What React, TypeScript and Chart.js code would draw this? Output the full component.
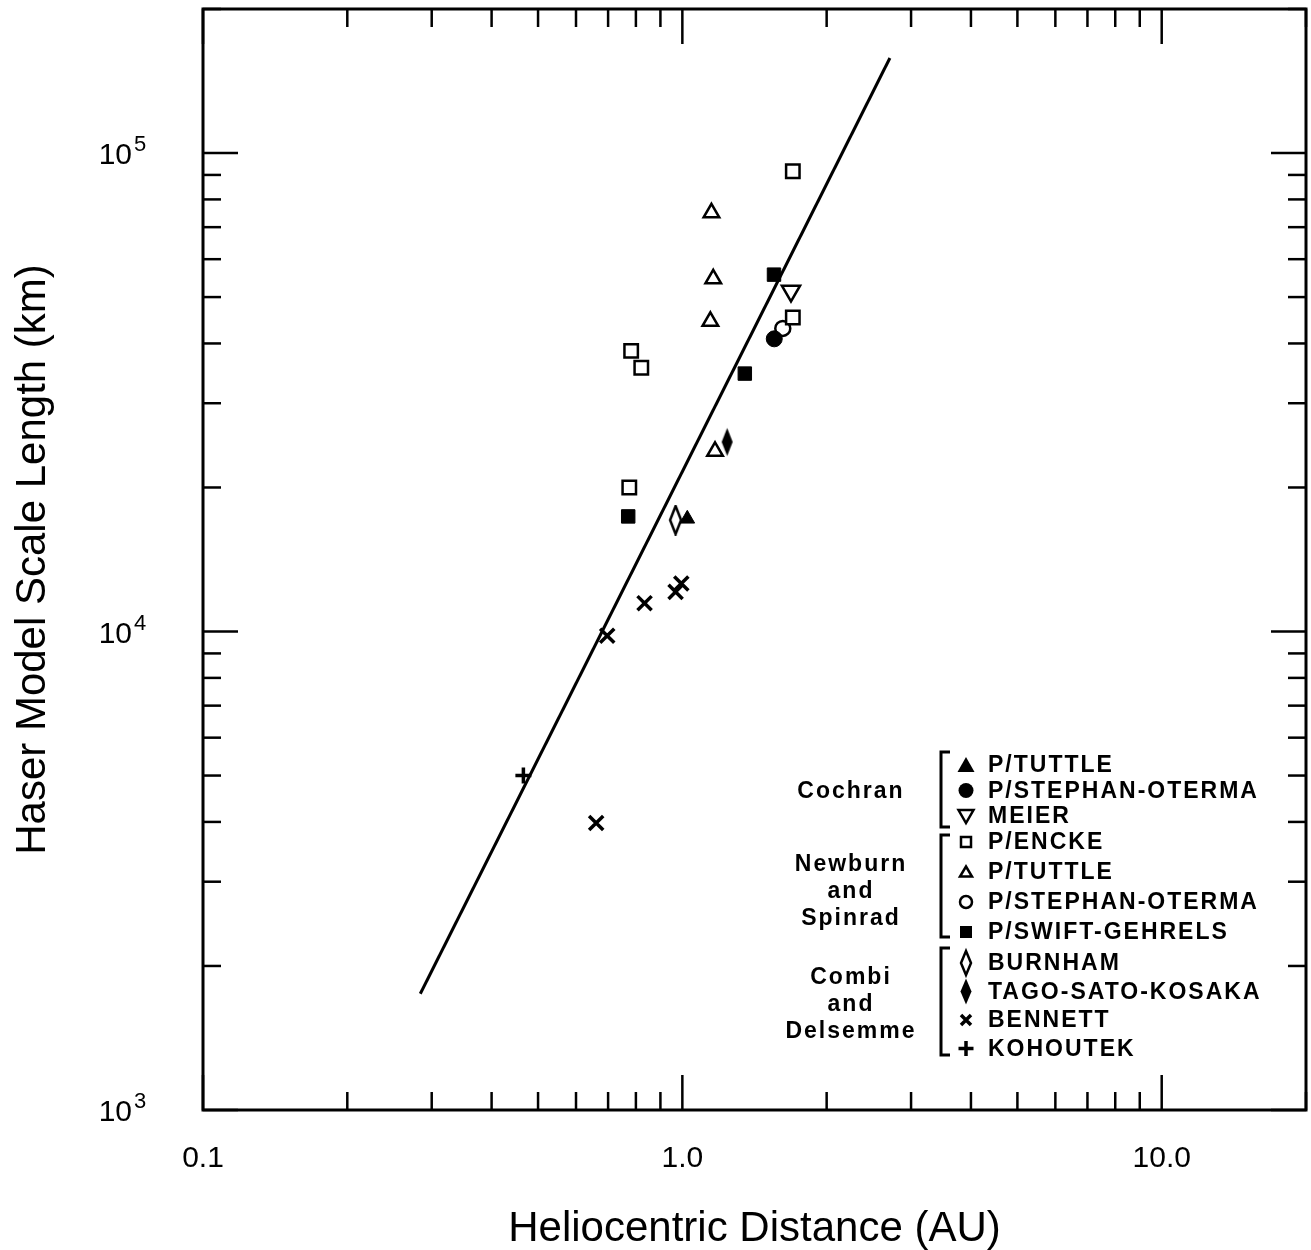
import React, { useEffect, useRef } from 'react';
import { Chart, registerables } from 'chart.js';

Chart.register(...registerables);

const W = 1311;
const H = 1250;
const FONT = "'Liberation Sans', Arial, Helvetica, sans-serif";

// ---- data (heliocentric distance AU, Haser scale length km) ----
const cochranTuttleX = [1.024];
const cochranTuttleY = [17200];
const cochranStephanX = [1.555];
const cochranStephanY = [40900];
const meierX = [1.685];
const meierY = [51500];

const enckeX = [0.775, 0.782, 0.821, 1.7, 1.7];
const enckeY = [20000, 38600, 35600, 45300, 91600];
const nsTuttleX = [1.144, 1.15, 1.16, 1.17];
const nsTuttleY = [44500, 75000, 54600, 23800];
const nsStephanX = [1.62];
const nsStephanY = [43000];
const swiftX = [0.771, 1.35, 1.553];
const swiftY = [17400, 34600, 55700];

const burnhamX = [0.968];
const burnhamY = [17100];
const tagoX = [1.24];
const tagoY = [24900];
const bennettX = [0.661, 0.697, 0.834, 0.968, 0.995];
const bennettY = [3980, 9800, 11460, 12100, 12600];
const kohoutekX = [0.466];
const kohoutekY = [5000];

const fitX = [0.284, 2.71];
const fitY = [1750, 158000];

// ---- axes ----
const xMin = 0.1;
const xMax = 20;
const yMin = 1000;
const yMax = 200000;
const xDecades = [0.1, 1, 10];
const xTickLabels = ['0.1', '1.0', '10.0'];
const yDecades = [1000, 10000, 100000];
const yExponents = ['3', '4', '5'];

// ---- legend ----
const legendGroupLabels = [['Cochran'], ['Newburn', 'and', 'Spinrad'], ['Combi', 'and', 'Delsemme']];
const legendSymbols = [
  ['triF', 'dotF', 'dtriO'],
  ['sqO', 'triO', 'dotO', 'sqF'],
  ['diaO', 'diaF', 'xmark', 'plus'],
];
const legendNames = [
  ['P/TUTTLE', 'P/STEPHAN-OTERMA', 'MEIER'],
  ['P/ENCKE', 'P/TUTTLE', 'P/STEPHAN-OTERMA', 'P/SWIFT-GEHRELS'],
  ['BURNHAM', 'TAGO-SATO-KOSAKA', 'BENNETT', 'KOHOUTEK'],
];

function pts(xs: number[], ys: number[]) {
  return xs.map((x, i) => ({ x, y: ys[i] }));
}

function makeDiamond(filled: boolean) {
  const c = document.createElement('canvas');
  c.width = 15;
  c.height = 31;
  const g = c.getContext('2d')!;
  g.beginPath();
  g.moveTo(7.5, 1.5);
  g.lineTo(13, 15.5);
  g.lineTo(7.5, 29.5);
  g.lineTo(2, 15.5);
  g.closePath();
  if (filled) {
    g.fillStyle = '#000';
    g.fill();
  } else {
    g.fillStyle = '#fff';
    g.fill();
    g.lineWidth = 2.5;
    g.strokeStyle = '#000';
    g.stroke();
  }
  return c;
}

function drawSymbol(ctx: CanvasRenderingContext2D, kind: string, x: number, y: number) {
  ctx.save();
  ctx.strokeStyle = '#000';
  ctx.fillStyle = '#000';
  ctx.lineWidth = 2.5;
  ctx.beginPath();
  switch (kind) {
    case 'triF':
      ctx.moveTo(x, y - 8);
      ctx.lineTo(x + 8.5, y + 7);
      ctx.lineTo(x - 8.5, y + 7);
      ctx.closePath();
      ctx.fill();
      break;
    case 'dotF':
      ctx.arc(x, y, 7.5, 0, Math.PI * 2);
      ctx.fill();
      break;
    case 'dtriO':
      ctx.moveTo(x - 7.5, y - 6);
      ctx.lineTo(x + 7.5, y - 6);
      ctx.lineTo(x, y + 7);
      ctx.closePath();
      ctx.stroke();
      break;
    case 'sqO':
      ctx.rect(x - 5, y - 5, 10, 10);
      ctx.stroke();
      break;
    case 'triO':
      ctx.moveTo(x, y - 5.5);
      ctx.lineTo(x + 6, y + 4.5);
      ctx.lineTo(x - 6, y + 4.5);
      ctx.closePath();
      ctx.stroke();
      break;
    case 'dotO':
      ctx.arc(x, y, 6, 0, Math.PI * 2);
      ctx.stroke();
      break;
    case 'sqF':
      ctx.rect(x - 6, y - 6, 12, 12);
      ctx.fill();
      break;
    case 'diaO':
      ctx.moveTo(x, y - 12);
      ctx.lineTo(x + 5, y);
      ctx.lineTo(x, y + 12);
      ctx.lineTo(x - 5, y);
      ctx.closePath();
      ctx.stroke();
      break;
    case 'diaF':
      ctx.moveTo(x, y - 13);
      ctx.lineTo(x + 5.5, y);
      ctx.lineTo(x, y + 13);
      ctx.lineTo(x - 5.5, y);
      ctx.closePath();
      ctx.fill();
      break;
    case 'xmark':
      ctx.lineWidth = 3.5;
      ctx.moveTo(x - 5, y - 5);
      ctx.lineTo(x + 5, y + 5);
      ctx.moveTo(x + 5, y - 5);
      ctx.lineTo(x - 5, y + 5);
      ctx.stroke();
      break;
    case 'plus':
      ctx.lineWidth = 3.5;
      ctx.moveTo(x - 7.5, y);
      ctx.lineTo(x + 7.5, y);
      ctx.moveTo(x, y - 7.5);
      ctx.lineTo(x, y + 7.5);
      ctx.stroke();
      break;
  }
  ctx.restore();
}

const frameTicksPlugin = {
  id: 'frameTicks',
  afterDraw(chart: any) {
    const { ctx, chartArea: a, scales } = chart;
    const xs = scales.x;
    const ys = scales.y;
    const MAJOR = 35;
    const MINOR = 18;
    ctx.save();
    ctx.strokeStyle = '#000';
    ctx.lineWidth = 3;
    ctx.strokeRect(a.left, a.top, a.right - a.left, a.bottom - a.top);
    ctx.lineWidth = 2.5;
    const seg = (x1: number, y1: number, x2: number, y2: number) => {
      ctx.beginPath();
      ctx.moveTo(x1, y1);
      ctx.lineTo(x2, y2);
      ctx.stroke();
    };
    for (const d of xDecades) {
      for (let m = 1; m <= 9; m++) {
        const v = m * d;
        if (v < xMin * 0.999 || v > xMax * 1.001) continue;
        const px = xs.getPixelForValue(v);
        const len = m === 1 ? MAJOR : MINOR;
        seg(px, a.bottom, px, a.bottom - len);
        seg(px, a.top, px, a.top + len);
      }
    }
    for (const d of yDecades) {
      for (let m = 1; m <= 9; m++) {
        const v = m * d;
        if (v < yMin * 0.999 || v > yMax * 1.001) continue;
        const py = ys.getPixelForValue(v);
        const len = m === 1 ? MAJOR : MINOR;
        seg(a.left, py, a.left + len, py);
        seg(a.right, py, a.right - len, py);
      }
    }
    // y tick labels: 10 with superscript exponent
    ctx.fillStyle = '#000';
    yDecades.forEach((v, i) => {
      const py = ys.getPixelForValue(v);
      ctx.font = `30px ${FONT}`;
      ctx.textAlign = 'right';
      ctx.textBaseline = 'middle';
      ctx.fillText('10', 132, py + 3);
      ctx.font = `22px ${FONT}`;
      ctx.textAlign = 'left';
      ctx.textBaseline = 'alphabetic';
      ctx.fillText(yExponents[i], 134, py - 2);
    });
    ctx.restore();
  },
};

const legendPlugin = {
  id: 'bracketLegend',
  afterDraw(chart: any) {
    const ctx: CanvasRenderingContext2D = chart.ctx;
    const rowStarts = [765, 842, 963];
    const rowSteps = [25.5, 30, 28.5];
    const labelCenters = [792, 892, 1005];
    const labelStep = 27;
    const brackets = [
      [752, 827],
      [835, 937],
      [948, 1055],
    ];
    ctx.save();
    ctx.fillStyle = '#000';
    ctx.strokeStyle = '#000';
    (ctx as any).letterSpacing = '2px';
    legendGroupLabels.forEach((lines, g) => {
      ctx.font = `bold 23px ${FONT}`;
      ctx.textAlign = 'center';
      ctx.textBaseline = 'middle';
      const n = lines.length;
      lines.forEach((t, k) => {
        ctx.fillText(t, 851, labelCenters[g] + (k - (n - 1) / 2) * labelStep);
      });
      // bracket
      const [b0, b1] = brackets[g];
      ctx.lineWidth = 3;
      ctx.beginPath();
      ctx.moveTo(950, b0);
      ctx.lineTo(941, b0);
      ctx.lineTo(941, b1);
      ctx.lineTo(950, b1);
      ctx.stroke();
      legendSymbols[g].forEach((sym, r) => {
        const y = rowStarts[g] + r * rowSteps[g];
        drawSymbol(ctx, sym, 966, y);
        ctx.font = `bold 23px ${FONT}`;
        ctx.textAlign = 'left';
        ctx.textBaseline = 'middle';
        ctx.fillText(legendNames[g][r], 988, y + 1);
      });
    });
    ctx.restore();
  },
};

export default function App() {
  const ref = useRef<HTMLCanvasElement | null>(null);

  useEffect(() => {
    const canvas = ref.current;
    if (!canvas) return;
    const diaOpen = makeDiamond(false);
    const diaFilled = makeDiamond(true);

    const base = {
      showLine: false,
      pointBorderColor: '#000',
      pointBackgroundColor: '#000',
      order: 1,
    };

    const chart = new Chart(canvas, {
      type: 'scatter',
      data: {
        datasets: [
          {
            label: 'fit',
            data: pts(fitX, fitY),
            showLine: true,
            borderColor: '#000',
            borderWidth: 3,
            pointRadius: 0,
            order: 10,
          } as any,
          { ...base, label: 'Cochran P/TUTTLE', data: pts(cochranTuttleX, cochranTuttleY), pointStyle: 'triangle', pointRadius: 8.5, pointBorderWidth: 1 },
          { ...base, label: 'Cochran P/STEPHAN-OTERMA', data: pts(cochranStephanX, cochranStephanY), pointStyle: 'circle', pointRadius: 8, pointBorderWidth: 1 },
          { ...base, label: 'MEIER', data: pts(meierX, meierY), pointStyle: 'triangle', rotation: 180, pointRotation: 180, pointRadius: 10.5, pointBorderWidth: 2.5, pointBackgroundColor: '#fff' },
          { ...base, label: 'P/ENCKE', data: pts(enckeX, enckeY), pointStyle: 'rect', pointRadius: 9.5, pointBorderWidth: 2.5, pointBackgroundColor: '#fff' },
          { ...base, label: 'NS P/TUTTLE', data: pts(nsTuttleX, nsTuttleY), pointStyle: 'triangle', pointRadius: 9, pointBorderWidth: 2.5, pointBackgroundColor: '#fff' },
          { ...base, label: 'NS P/STEPHAN-OTERMA', data: pts(nsStephanX, nsStephanY), pointStyle: 'circle', pointRadius: 7.5, pointBorderWidth: 2.5, pointBackgroundColor: '#fff' },
          { ...base, label: 'P/SWIFT-GEHRELS', data: pts(swiftX, swiftY), pointStyle: 'rect', pointRadius: 9.5, pointBorderWidth: 1 },
          { ...base, label: 'BURNHAM', data: pts(burnhamX, burnhamY), pointStyle: diaOpen, pointRadius: 10 },
          { ...base, label: 'TAGO-SATO-KOSAKA', data: pts(tagoX, tagoY), pointStyle: diaFilled, pointRadius: 10 },
          { ...base, label: 'BENNETT', data: pts(bennettX, bennettY), pointStyle: 'crossRot', pointRadius: 10, pointBorderWidth: 3.5 },
          { ...base, label: 'KOHOUTEK', data: pts(kohoutekX, kohoutekY), pointStyle: 'cross', pointRadius: 8, pointBorderWidth: 3.5 },
        ] as any,
      },
      options: {
        responsive: false,
        animation: false,
        devicePixelRatio: 1,
        events: [],
        layout: { autoPadding: false, padding: { top: 9, right: 5, left: 0, bottom: 0 } },
        plugins: {
          legend: { display: false },
          tooltip: { enabled: false },
        },
        scales: {
          x: {
            type: 'logarithmic',
            position: 'bottom',
            min: xMin,
            max: xMax,
            grid: { display: false, drawTicks: false },
            border: { display: false },
            ticks: {
              autoSkip: false,
              maxRotation: 0,
              minRotation: 0,
              padding: 31,
              color: '#000',
              font: { family: FONT, size: 30 },
              callback: (_v: any, i: number) => xTickLabels[i],
            },
            afterBuildTicks: (axis: any) => {
              axis.ticks = xDecades.map((v) => ({ value: v }));
            },
            afterFit: (axis: any) => {
              axis.height = 140;
            },
            title: {
              display: true,
              text: 'Heliocentric Distance (AU)',
              color: '#000',
              font: { family: FONT, size: 42, lineHeight: 1 },
              padding: { top: 0, bottom: 0 },
            },
          },
          y: {
            type: 'logarithmic',
            position: 'left',
            min: yMin,
            max: yMax,
            grid: { display: false, drawTicks: false },
            border: { display: false },
            ticks: { display: false },
            afterBuildTicks: (axis: any) => {
              axis.ticks = yDecades.map((v) => ({ value: v }));
            },
            afterFit: (axis: any) => {
              axis.width = 203;
            },
            title: {
              display: true,
              text: 'Haser Model Scale Length (km)',
              color: '#000',
              font: { family: FONT, size: 42, lineHeight: 1 },
              padding: { top: 12, bottom: 0 },
            },
          },
        },
      } as any,
      plugins: [frameTicksPlugin, legendPlugin],
    });

    return () => chart.destroy();
  }, []);

  return (
    <div style={{ position: 'fixed', left: 0, top: 0, width: W, height: H, background: '#fff' }}>
      <canvas ref={ref} width={W} height={H} style={{ display: 'block', width: W, height: H }} />
    </div>
  );
}
